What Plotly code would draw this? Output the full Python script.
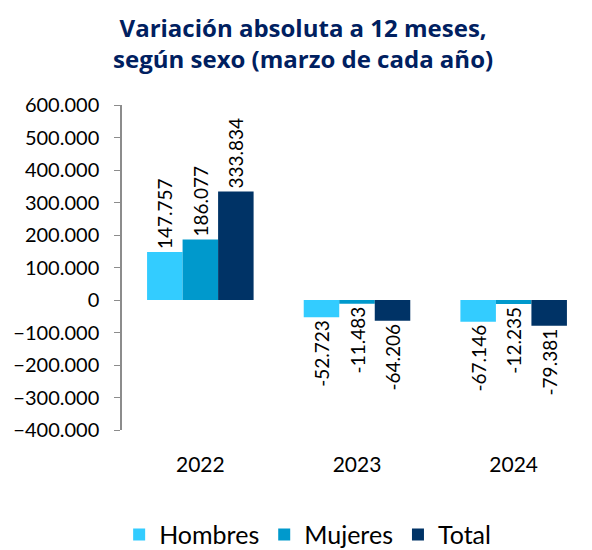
import plotly.graph_objects as go

years = ["2022", "2023", "2024"]
hombres = [147757, -52723, -67146]
mujeres = [186077, -11483, -12235]
total = [333834, -64206, -79381]

series = [
    ("Hombres", hombres, "#33CCFF"),
    ("Mujeres", mujeres, "#0099CC"),
    ("Total", total, "#003366"),
]

FONT = "Lato, 'Open Sans', sans-serif"

fig = go.Figure()
for name, vals, color in series:
    fig.add_trace(
        go.Bar(
            x=years,
            y=vals,
            name=name,
            marker=dict(color=color, line=dict(width=0)),
            texttemplate="%{y:,}",
            textposition="outside",
            textangle=-90,
            constraintext="none",
            textfont=dict(size=19, color="#000000", family=FONT),
            cliponaxis=False,
        )
    )

fig.update_layout(
    width=592,
    height=550,
    paper_bgcolor="white",
    plot_bgcolor="white",
    separators=",.",
    barmode="group",
    bargap=0.32,
    bargroupgap=0,
    font=dict(family=FONT, size=20, color="#000000"),
    title=dict(
        text="<b>Variación absoluta a 12 meses,<br>según sexo (marzo de cada año)</b>",
        x=0.512,
        xanchor="center",
        y=0.933,
        yanchor="middle",
        font=dict(size=24, color="#002060", family="'Open Sans', sans-serif"),
    ),
    margin=dict(l=122, r=0, t=105, b=120, autoexpand=False),
    showlegend=True,
    legend=dict(
        orientation="h",
        x=0.395,
        xanchor="center",
        y=-0.322,
        yanchor="middle",
        font=dict(size=25),
        traceorder="normal",
        itemwidth=30,
    ),
    xaxis=dict(
        type="category",
        range=[-0.5, 2.5],
        showline=False,
        showgrid=False,
        zeroline=False,
        ticks="",
        tickfont=dict(size=21),
        ticklabelstandoff=20,
    ),
    xaxis2=dict(
        overlaying="x",
        anchor="free",
        position=0.4,
        range=[-0.5, 2.5],
        tickvals=[0.5, 1.5],
        showticklabels=False,
        ticks="outside",
        ticklen=8,
        tickcolor="#8c8c8c",
        showline=True,
        linecolor="#8c8c8c",
        linewidth=1.5,
        showgrid=False,
        zeroline=False,
    ),
    yaxis=dict(
        range=[-400000, 600000],
        tickvals=list(range(-400000, 600001, 100000)),
        tickformat=",",
        showgrid=False,
        zeroline=False,
        showline=True,
        linecolor="#8c8c8c",
        linewidth=1.5,
        ticks="outside",
        ticklen=6,
        tickcolor="#8c8c8c",
        tickfont=dict(size=20),
        ticklabelstandoff=11,
    ),
)

fig.write_html(
    "out.html",
    config={"displayModeBar": False},
    post_script="document.body.style.margin='0';",
)
